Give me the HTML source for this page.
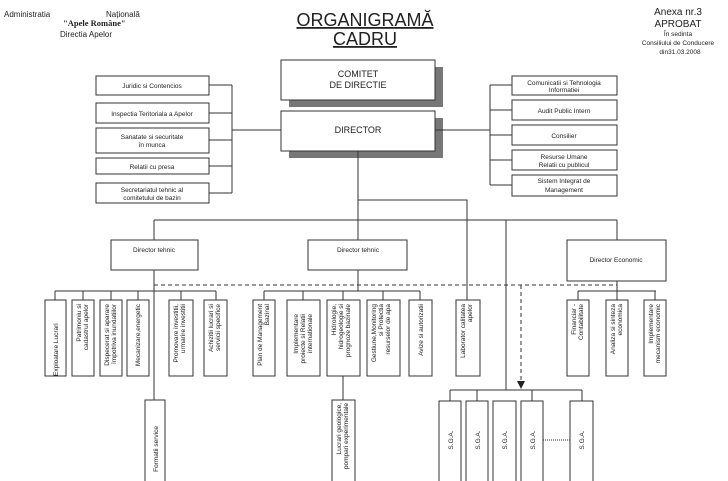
<!DOCTYPE html>
<html><head><meta charset="utf-8"><style>
html,body{margin:0;padding:0;background:#fff;}
svg{display:block;font-family:"Liberation Sans",Arial,sans-serif;}
</style></head><body>
<svg width="728" height="481" viewBox="0 0 728 481" xmlns="http://www.w3.org/2000/svg">
<g font-size="8" fill="#222">
<text x="4" y="17">Administratia</text>
<text x="106" y="17">Națională</text>
<text x="63" y="26" font-family="Liberation Serif,serif" font-weight="bold" font-size="8.5">"Apele Române"</text>
<text x="60" y="37">Directia Apelor</text>
</g>
<g text-anchor="middle" fill="#222">
<text x="678" y="15" font-size="10">Anexa nr.3</text>
<text x="678" y="27" font-size="10">APROBAT</text>
<text x="678" y="36" font-size="6.5">În sedinta</text>
<text x="678" y="45" font-size="6.5">Consiliului de Conducere</text>
<text x="680" y="54" font-size="6.5">din31.03.2008</text>
<text x="365" y="26" font-size="18" text-decoration="underline">ORGANIGRAMĂ</text>
<text x="365" y="45" font-size="18" text-decoration="underline">CADRU</text>
</g>
<g fill="#777"><rect x="289" y="67" width="154" height="40"/><rect x="289" y="118" width="154" height="40"/></g>
<g fill="#fff" stroke="#333" stroke-width="1">
<rect x="281" y="60" width="154" height="40"/><rect x="281" y="111" width="154" height="40"/>
<rect x="96" y="76" width="113" height="19"/><rect x="96" y="103" width="113" height="20"/>
<rect x="96" y="128" width="113" height="25"/><rect x="96" y="158" width="113" height="16"/>
<rect x="96" y="183" width="113" height="20"/>
<rect x="512" y="76" width="105" height="19"/><rect x="512" y="100" width="105" height="20"/>
<rect x="512" y="125" width="105" height="20"/><rect x="512" y="150" width="105" height="20"/>
<rect x="512" y="175" width="105" height="21"/>
<rect x="111" y="240" width="87" height="30"/><rect x="308" y="240" width="99" height="30"/>
<rect x="567" y="240" width="99" height="41"/>
<rect x="45" y="300" width="21" height="76"/><rect x="72" y="300" width="22" height="76"/>
<rect x="100" y="300" width="22" height="76"/><rect x="127" y="300" width="22" height="76"/>
<rect x="169" y="300" width="24" height="76"/><rect x="204" y="300" width="23" height="76"/>
<rect x="253" y="300" width="22" height="76"/><rect x="287" y="300" width="33" height="76"/>
<rect x="327" y="300" width="33" height="76"/><rect x="367" y="300" width="33" height="76"/>
<rect x="409" y="300" width="23" height="76"/><rect x="456" y="300" width="24" height="76"/>
<rect x="567" y="300" width="22" height="76"/><rect x="606" y="300" width="22" height="76"/>
<rect x="644" y="300" width="22" height="76"/>
<rect x="145" y="400" width="20" height="90"/><rect x="332" y="400" width="23" height="90"/>
<rect x="439" y="401" width="22" height="90"/><rect x="466" y="401" width="22" height="90"/>
<rect x="493" y="401" width="23" height="90"/><rect x="521" y="401" width="22" height="90"/>
<rect x="570" y="401" width="23" height="90"/>
</g>
<g stroke="#333" stroke-width="1" fill="none">
<path d="M209 85H232M209 113H232M209 140H232M209 166H232M209 193H232M232 85V193M232 130H281"/>
<path d="M490 85H512M490 110H512M490 135H512M490 160H512M490 185H512M490 85V185M435 130H490"/>
<path d="M358 151V240M154 220H617M154 220V240M617 220V240M358 200H467V300M506 220V390"/>
<path d="M154 270V400M55 291H216M55 291V300M83 291V300M111 291V300M138 291V300M181 291V300M216 291V300"/>
<path d="M358 270V291M264 291H420M264 291V300M303 291V300M343 291V300M383 291V300M420 291V300M343 376V400"/>
<path d="M617 281V291M578 291H656M578 291V300M617 291V300M655 291V300"/>
<path d="M450 390H582M450 390V401M477 390V401M532 390V401M582 390V401"/>
</g>
<path d="M154 285H617M521 285V382" stroke="#333" stroke-dasharray="4,3" fill="none"/>
<path d="M517 381L525 381L521 389Z" fill="#222"/>
<path d="M543 440H570" stroke="#333" stroke-dasharray="1,1"/>
<g text-anchor="middle" font-size="9" fill="#222">
<text x="358" y="77">COMITET</text><text x="358" y="88">DE DIRECTIE</text>
<text x="358" y="133">DIRECTOR</text>
</g>
<g text-anchor="middle" font-size="6.5" fill="#222">
<text x="152" y="88">Juridic si Contencios</text>
<text x="152" y="116">Inspectia Teritoriala a Apelor</text>
<text x="152" y="139">Sanatate si securitate</text><text x="152" y="147">în munca</text>
<text x="152" y="169">Relatii cu presa</text>
<text x="152" y="192">Secretariatul tehnic al</text><text x="152" y="200">comitetului de bazin</text>
<text x="564" y="85">Comunicatii si Tehnologia</text><text x="564" y="92">Informatiei</text>
<text x="564" y="113">Audit Public Intern</text>
<text x="564" y="138">Consilier</text>
<text x="564" y="159">Resurse Umane</text><text x="564" y="167">Relatii cu publicul</text>
<text x="564" y="183">Sistem Integrat de</text><text x="564" y="192">Management</text>
<text x="154" y="252">Director tehnic</text>
<text x="358" y="252">Director tehnic</text>
<text x="616" y="262">Director Economic</text>
</g>
<g font-size="6.5" fill="#222" text-anchor="end">
<text transform="translate(58,304) rotate(-90)" text-anchor="start" x="-72">Exploatare Lucrari</text>
<text transform="translate(81,304) rotate(-90)">Patrimoniu si</text><text transform="translate(88,304) rotate(-90)">cadastrul apelor</text>
<text transform="translate(109,304) rotate(-90)">Dispecerat si aparare</text><text transform="translate(116,304) rotate(-90)">împotriva inundatiilor</text>
<text transform="translate(140,304) rotate(-90)">Mecanizare,energetic</text>
<text transform="translate(178,304) rotate(-90)">Promovare investitii,</text><text transform="translate(185,304) rotate(-90)">urmarire investitii</text>
<text transform="translate(213,304) rotate(-90)">Achizitii lucrari si</text><text transform="translate(220,304) rotate(-90)">servicii specifice</text>
<text transform="translate(262,304) rotate(-90)">Plan de Management</text><text transform="translate(269,304) rotate(-90)">Bazinal</text>
<text transform="translate(298,304) rotate(-90)" x="-10">Implementare</text><text transform="translate(305,304) rotate(-90)" x="-10">proiecte si Relatii</text><text transform="translate(312,304) rotate(-90)" x="-10">internationale</text>
<text transform="translate(336,304) rotate(-90)">Hidrologie,</text><text transform="translate(343,304) rotate(-90)">hidrogeologie  si</text><text transform="translate(350,304) rotate(-90)">prognoze bazinale</text>
<text transform="translate(376,304) rotate(-90)">Gestiune,Monitoring</text><text transform="translate(383,304) rotate(-90)">si Protectia</text><text transform="translate(390,304) rotate(-90)">resurselor de apa</text>
<text transform="translate(423,304) rotate(-90)">Avize  si autorizatii</text>
<text transform="translate(465,304) rotate(-90)">Laborator calitatea</text><text transform="translate(472,304) rotate(-90)">apelor</text>
<text transform="translate(576,304) rotate(-90)">Financiar -</text><text transform="translate(583,304) rotate(-90)">Contabilitate</text>
<text transform="translate(615,304) rotate(-90)">Analiza si sinteza</text><text transform="translate(622,304) rotate(-90)">economica</text>
<text transform="translate(653,304) rotate(-90)">Implementare</text><text transform="translate(660,304) rotate(-90)">mecanism economic</text>
<text transform="translate(158,426) rotate(-90)">Formatii service</text>
<text transform="translate(341,403) rotate(-90)">Lucrari geologice,</text><text transform="translate(348,403) rotate(-90)">pompari experimentale</text>
</g>
<g font-size="6.5" fill="#222" text-anchor="middle">
<text transform="translate(453,440) rotate(-90)">S.G.A.</text>
<text transform="translate(480,440) rotate(-90)">S.G.A.</text>
<text transform="translate(507,440) rotate(-90)">S.G.A.</text>
<text transform="translate(535,440) rotate(-90)">S.G.A.</text>
<text transform="translate(584,440) rotate(-90)">S.G.A.</text>
</g>
</svg>
</body></html>
